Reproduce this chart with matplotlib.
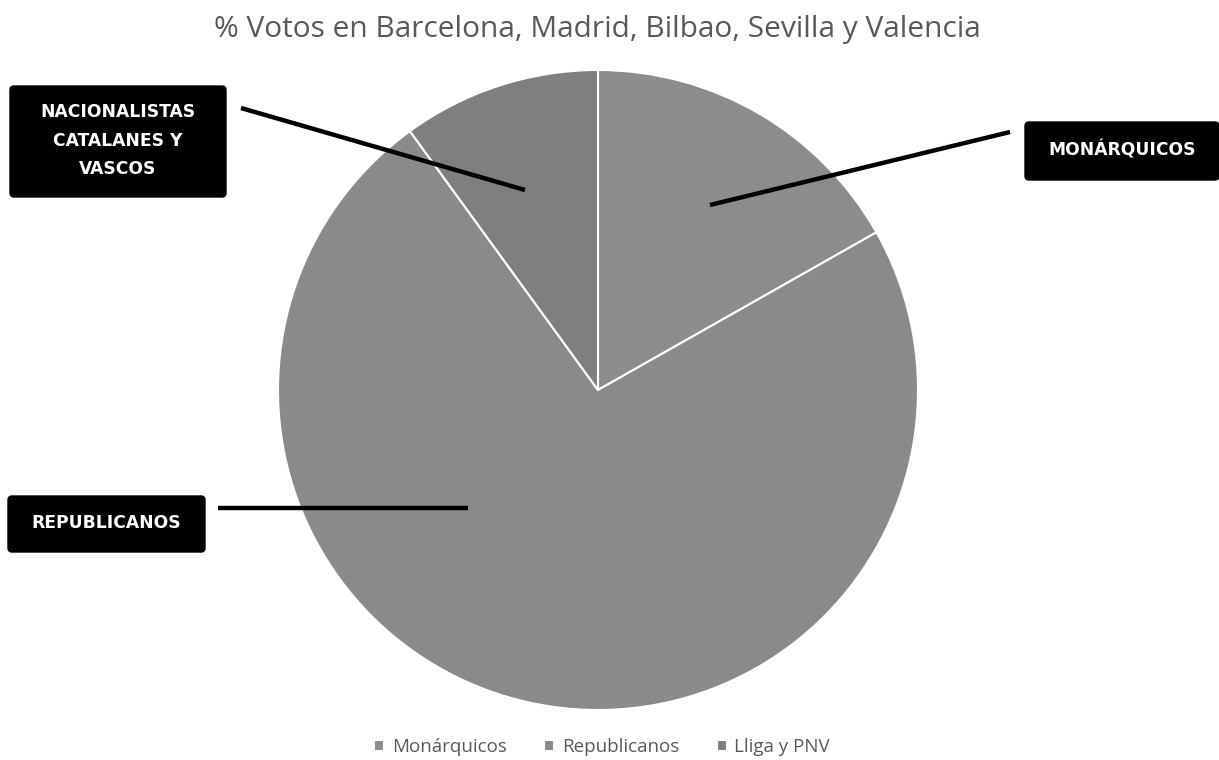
import matplotlib
matplotlib.use("Agg")
import matplotlib.pyplot as plt
from matplotlib.patches import FancyBboxPatch
from matplotlib.lines import Line2D

title = "% Votos en Barcelona, Madrid, Bilbao, Sevilla y Valencia"
categories = ["Monárquicos", "Republicanos", "Lliga y PNV"]
values = [16.8, 73.2, 10.0]
colors = ["#8c8c8c", "#8a8a8a", "#7f7f7f"]
box_labels = ["MONÁRQUICOS", "REPUBLICANOS", "NACIONALISTAS\nCATALANES Y\nVASCOS"]

W, H = 1219, 760
fig = plt.figure(figsize=(W / 100, H / 100), dpi=100)
ax = fig.add_axes([0, 0, 1, 1])

def fy(y):
    return H - y

cx, cy, r = 598, fy(390), 320
wedges, _ = ax.pie(values, colors=colors, startangle=90, counterclock=False,
                   center=(cx, cy), radius=r, frame=True,
                   wedgeprops=dict(edgecolor="white", linewidth=1.5))
ax.set_xlim(0, W)
ax.set_ylim(0, H)
ax.set_aspect("equal")
ax.axis("off")

fig.text(597 / W, 1 - 29 / H, title, ha="center", va="center",
         fontsize=21.5, color="#595959", family="Open Sans")

# callout boxes (x0, y0, x1, y1 in image pixels) and leader lines
boxes = [(1025, 122, 1219, 180), (8, 496, 205, 552), (10, 86, 226, 197)]
lines = [((1010, 132), (710, 205)), ((218, 508), (468, 508)), ((241, 108), (525, 190))]
for (x0, y0, x1, y1), lab, ((lx0, ly0), (lx1, ly1)) in zip(boxes, box_labels, lines):
    p = FancyBboxPatch((x0 + 3, fy(y1) + 3), x1 - x0 - 6, y1 - y0 - 6,
                       boxstyle="round,pad=3,rounding_size=4",
                       facecolor="black", edgecolor="black", zorder=5)
    ax.add_patch(p)
    ax.text((x0 + x1) / 2, fy((y0 + y1) / 2) + 1, lab, ha="center", va="center",
            color="white", fontsize=12.3, fontweight="bold", linespacing=1.75,
            family="DejaVu Sans", zorder=6)
    ax.add_line(Line2D([lx0, lx1], [fy(ly0), fy(ly1)], color="black",
                       linewidth=3.2, zorder=4, solid_capstyle="butt"))

leg = ax.legend(wedges, categories, loc="center", bbox_to_anchor=(602 / W, 1 - 747 / H),
                ncol=3, frameon=False, handlelength=0.55, handleheight=0.55,
                handletextpad=0.4, columnspacing=2.0, prop=dict(family="Open Sans", size=13.5))
for t in leg.get_texts():
    t.set_color("#595959")

fig.savefig("out.png", dpi=100)
